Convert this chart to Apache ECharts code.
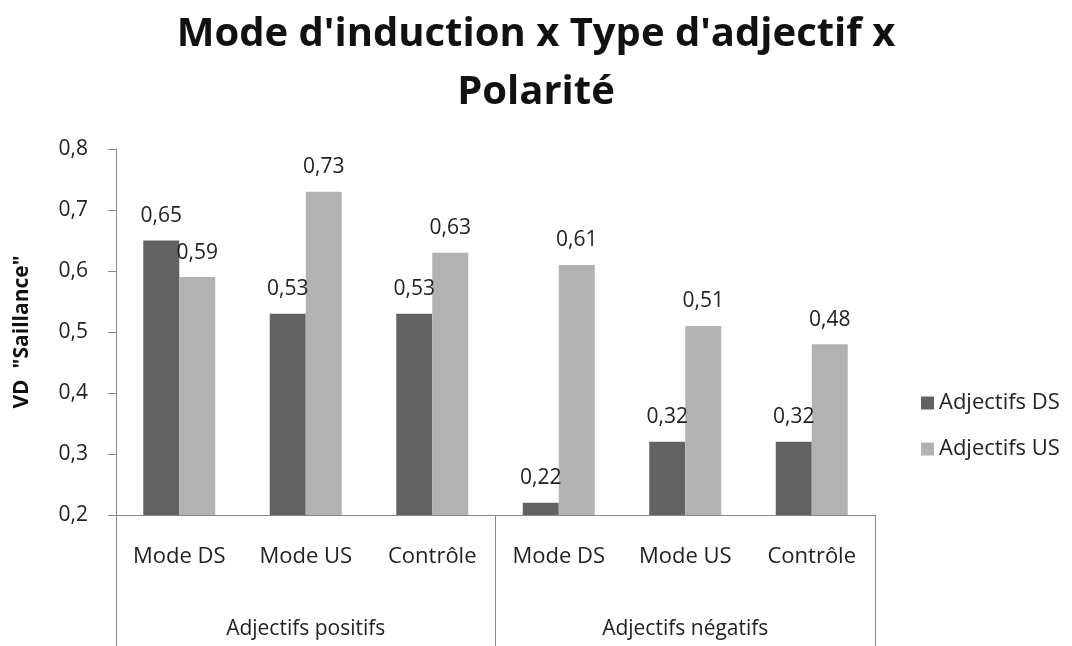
<!DOCTYPE html>
<html>
<head>
<meta charset="utf-8">
<script src="https://cdn.jsdelivr.net/npm/echarts@6/dist/echarts.min.js"></script>
<style>
  html, body { margin: 0; padding: 0; background: #fff; }
  #chart { width: 1072px; height: 646px; }
</style>
</head>
<body>
<div id="chart"></div>
<script>
// catégories (mode d'induction) et groupes (polarité)
const categories = ['Mode DS', 'Mode US', 'Contrôle', 'Mode DS', 'Mode US', 'Contrôle'];
const groups = ['Adjectifs positifs', 'Adjectifs négatifs'];

// valeurs
const adjDS = [0.65, 0.53, 0.53, 0.22, 0.32, 0.32];
const adjUS = [0.59, 0.73, 0.63, 0.61, 0.51, 0.48];

const yTicks = [0.2, 0.3, 0.4, 0.5, 0.6, 0.7, 0.8];

const font = 'Open Sans';
const fs = 21;
const comma = v => String(v).replace('.', ',');

const myChart = echarts.init(document.getElementById('chart'));

const option = {
  animation: false,
  textStyle: { fontFamily: font, color: '#222' },
  title: {
    text: "Mode d'induction x Type d'adjectif x\nPolarité",
    left: 'center',
    top: 1,
    textStyle: {
      fontFamily: font,
      fontSize: 40,
      fontWeight: 'bold',
      lineHeight: 58,
      color: '#111',
    },
  },
  legend: {
    orient: 'vertical',
    left: 916,
    top: 387,
    itemWidth: 13,
    itemHeight: 13,
    itemGap: 24,
    icon: 'rect',
    textStyle: { fontFamily: font, fontSize: 22, color: '#222' },
    data: ['Adjectifs DS', 'Adjectifs US'],
  },
  grid: {
    left: 116,
    right: 197,
    top: 149,
    bottom: 131,
  },
  xAxis: [
    {
      type: 'category',
      data: categories,
      position: 'bottom',
      axisLine: { show: true, lineStyle: { color: '#888' } },
      axisTick: { show: false },
      axisLabel: { fontFamily: font, fontSize: 22, color: '#222', margin: 31 },
    },
    {
      type: 'category',
      data: groups,
      position: 'bottom',
      offset: 0,
      axisLine: { show: false },
      axisTick: { show: true, length: 131, lineStyle: { color: '#888' } },
      axisLabel: { fontFamily: font, fontSize: fs, color: '#222', margin: 104 },
    },
  ],
  yAxis: {
    type: 'value',
    min: yTicks[0],
    max: yTicks[yTicks.length - 1],
    interval: 0.1,
    name: 'VD  "Saillance"',
    nameLocation: 'middle',
    nameGap: 83,
    nameTextStyle: { fontFamily: font, fontSize: fs, fontWeight: 'bold', color: '#111' },
    axisLine: { show: true, lineStyle: { color: '#888' } },
    axisTick: { show: true, length: 8, lineStyle: { color: '#888' } },
    splitLine: { show: false },
    axisLabel: {
      fontFamily: font,
      fontSize: fs,
      color: '#222',
      margin: 28,
      formatter: v => comma(Math.round(v * 10) / 10),
    },
  },
  series: [
    {
      name: 'Adjectifs DS',
      type: 'bar',
      xAxisIndex: 0,
      data: adjDS,
      barWidth: 36,
      barGap: '0%',
      itemStyle: { color: '#626262' },
      label: {
        show: true,
        position: 'top',
        distance: 14,
        fontFamily: font,
        fontSize: fs,
        color: '#222',
        formatter: p => comma(p.value),
      },
    },
    {
      name: 'Adjectifs US',
      type: 'bar',
      xAxisIndex: 0,
      data: adjUS,
      barWidth: 36,
      itemStyle: { color: '#b2b2b2' },
      label: {
        show: true,
        position: 'top',
        distance: 14,
        fontFamily: font,
        fontSize: fs,
        color: '#222',
        formatter: p => comma(p.value),
      },
    },
  ],
};

myChart.setOption(option);
</script>
</body>
</html>
